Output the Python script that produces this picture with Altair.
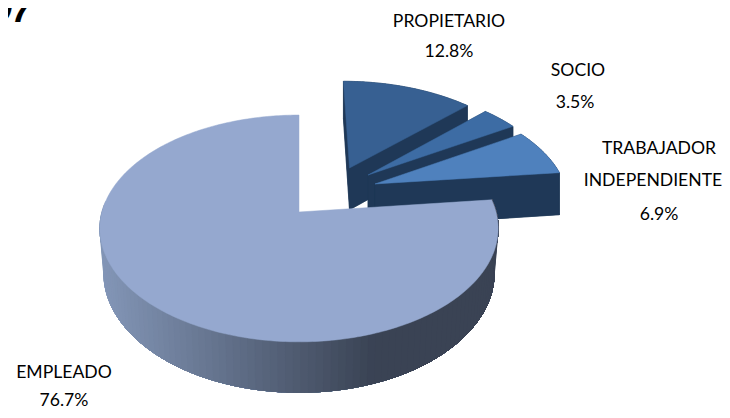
import numpy as np
import altair as alt

categories = ["PROPIETARIO", "SOCIO", "TRABAJADOR INDEPENDIENTE", "EMPLEADO"]
shares = [12.8, 3.5, 6.9, 76.7]
value_labels = ["12.8%", "3.5%", "6.9%", "76.7%"]
label_lines = ["PROPIETARIO", "12.8%", "SOCIO", "3.5%", "TRABAJADOR", "INDEPENDIENTE", "6.9%", "EMPLEADO", "76.7%"]

# layout / style
top_colors = ["#376092", "#3d6ca4", "#4f81bd", "#95a8cf"]
wall_color = "#1f3857"
explode = [(0.272, 0.42), (0.368, 0.35), (0.40, 0.262), (0.0, 0.0)]
CX, CY, R, S, K = 299.0, 212.0, 197.0, 111.0, 0.145
label_x = [449, 449, 578, 575, 659, 653, 659, 64, 64]
label_y = [22, 52, 71, 103, 149, 181, 215, 373, 401]


def top(u, v):
    d = 1 + K * v
    return (CX + R * u / d, CY - S * v / d)


def bottom(u, v, fx=0.98):
    x, y = top(u, v)
    return (CX + fx * (x - CX), CY + 1.05 * (y - CY) + 44)


def feature(points, color):
    ring = [[float(a), float(b)] for a, b in points]
    ring.append(ring[0])
    return {"type": "Feature", "geometry": {"type": "Polygon", "coordinates": [ring]},
            "properties": {"color": color}}


def hex_mix(a, b, t):
    ca = [int(a[i:i + 2], 16) for i in (1, 3, 5)]
    cb = [int(b[i:i + 2], 16) for i in (1, 3, 5)]
    return "#" + "".join(f"{round(p + (q - p) * t):02x}" for p, q in zip(ca, cb))


features = []
edges = np.cumsum([0] + shares) / sum(shares) * 2 * np.pi
for i in range(4):
    a0, a1 = edges[i], edges[i + 1]
    ou, ov = explode[i]
    thetas = np.linspace(a0, a1, max(6, int((a1 - a0) * 60)))
    arc = [(ou + np.sin(t), ov + np.cos(t)) for t in thetas]
    if i < 3:
        perim = [(ou, ov)] + arc
        features.append(feature([bottom(*p, fx=1.0) for p in perim], wall_color))
        for p, q in zip(perim, perim[1:] + perim[:1]):
            features.append(feature([top(*p), top(*q), bottom(*q, fx=1.0), bottom(*p, fx=1.0)], wall_color))
        features.append(feature([top(*p) for p in perim], top_colors[i]))
    else:
        # front wall: nested bands painted from the left edge towards the right,
        # each one covering everything still to its right, so no seams appear
        front = [t for t in thetas if t <= np.radians(276)]
        for k in range(len(front), 1, -2):
            part = [(np.sin(t), np.cos(t)) for t in front[:k]]
            x = top(*part[-1])[0]
            c = hex_mix("#8497b8", "#3a4354", min(1.0, max(0.0, (x - 97) / 273)))
            features.append(feature([top(*p) for p in part] + [bottom(*p) for p in part[::-1]], c))
        features.append(feature([top(ou, ov)] + [top(*p) for p in arc], top_colors[i]))

pie = alt.Chart(alt.Data(values=features)).mark_geoshape(strokeWidth=0.5).encode(
    fill=alt.Fill("properties.color:N", scale=None),
    stroke=alt.Stroke("properties.color:N", scale=None),
).project(type="identity", scale=1, translate=[-8, -8])

labels = alt.Chart(alt.Data(values=[
    {"t": t, "x": x - 8, "y": y - 8} for t, x, y in zip(label_lines, label_x, label_y)
])).mark_text(font="Lato", fontSize=17.6, color="#000000", align="center", baseline="middle").encode(
    text="t:N",
    x=alt.X("x:Q", scale=None),
    y=alt.Y("y:Q", scale=None),
)

title = alt.Chart(alt.Data(values=[{"t": "97"}])).mark_text(
    font="Liberation Sans", fontSize=36, fontWeight="bold", fontStyle="italic",
    align="right", baseline="alphabetic", color="#000000",
).encode(text="t:N", x=alt.value(24), y=alt.value(14))

chart = alt.layer(pie, labels, title).properties(
    width=714, height=402, padding=0, autosize=alt.AutoSizeParams(type="none")
).configure_view(stroke=None)

chart.save("out.html", embed_options={"renderer": "svg", "actions": False})
